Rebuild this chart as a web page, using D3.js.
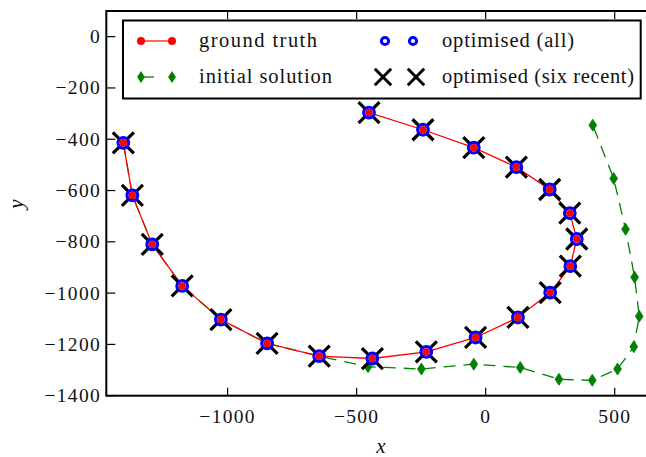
<!DOCTYPE html>
<html><head><meta charset="utf-8">
<script src="https://cdn.jsdelivr.net/npm/d3@7"></script>
<style>body{margin:0;background:#fff}svg{display:block}</style>
</head><body>
<svg id="c" width="646" height="457"></svg>
<script>
// ---- data ----
const gtX = [-1404,-1369,-1292,-1176,-1026,-847,-645,-439,-230,-39,125,250,328,353,326,248,119,-46,-243,-452];
const gtY = [-414,-619,-810,-972,-1103,-1196,-1246,-1255,-1229,-1173,-1095,-998,-895,-789,-688,-596,-509,-433,-363,-296];
const initX = [-1404,-1369,-1292,-1176,-1026,-847,-645,-456,-249,-46,134,284,413,511,574,595,577,542,496,415];
const initY = [-414,-619,-810,-972,-1103,-1196,-1246,-1287,-1296,-1277,-1290,-1336,-1340,-1296,-1209,-1090,-938,-751,-553,-345];
const optAllX = [-1404,-1369,-1292,-1176,-1026,-847,-645,-439,-230,-39,125,250,328,353,326,248,119,-46,-243,-452];
const optAllY = [-414,-619,-810,-972,-1103,-1196,-1246,-1255,-1229,-1173,-1095,-998,-895,-789,-688,-596,-509,-433,-363,-296];
const optRecentX = [-1404,-1369,-1292,-1176,-1026,-847,-645,-439,-230,-39,125,250,328,353,326,248,119,-46,-243,-452];
const optRecentY = [-414,-619,-810,-972,-1103,-1196,-1246,-1255,-1229,-1173,-1095,-998,-895,-789,-688,-596,-509,-433,-363,-296];
const xTicks = [-1000,-500,0,500];
const yTicks = [0,-200,-400,-600,-800,-1000,-1200,-1400];
const seriesNames = ["ground truth","initial solution","optimised (all)","optimised (six recent)"];
const xLabel = "x", yLabel = "y";

// ---- layout ----
const svg = d3.select("#c");
const L = 106.3, R = 656, T = 11, B = 395.7;
const x = d3.scaleLinear().domain([-1470, 660]).range([L, R]);
const y = d3.scaleLinear().domain([-1400, 100]).range([B, T]);
const FONT = "'Liberation Serif', 'DejaVu Serif', serif";
const fmt = v => (v < 0 ? "\u2212" + Math.abs(v) : String(v));

svg.append("defs").append("clipPath").attr("id","clip")
  .append("rect").attr("x",L).attr("y",T).attr("width",R-L).attr("height",B-T);

const plot = svg.append("g").attr("clip-path","url(#clip)");

const zip = (xs, ys) => xs.map((v,i) => [v, ys[i]]);
const gt = zip(gtX, gtY), init = zip(initX, initY), optA = zip(optAllX, optAllY), optR = zip(optRecentX, optRecentY);

const line = d3.line().x(d => x(d[0])).y(d => y(d[1]));

// initial solution dashed line
plot.append("path").attr("d", line(init)).attr("fill","none")
  .attr("stroke","#008000").attr("stroke-width",1.3).attr("stroke-dasharray","12,8");
// ground truth line
plot.append("path").attr("d", line(gt)).attr("fill","none")
  .attr("stroke","#ff0000").attr("stroke-width",1.3);

const diamond = (s) => `M0,${-6*s}L${3.9*s},0L0,${6*s}L${-3.9*s},0Z`;
const cross = (h) => `M${-h},${-h}L${h},${h}M${-h},${h}L${h},${-h}`;

// green diamonds
plot.append("g").selectAll("path").data(init).join("path")
  .attr("transform", d => `translate(${x(d[0])},${y(d[1])})`)
  .attr("d", diamond(1)).attr("fill","#008000").attr("stroke","#008000").attr("stroke-width",0.8);
// black X
plot.append("g").selectAll("path").data(optR).join("path")
  .attr("transform", d => `translate(${x(d[0])},${y(d[1])})`)
  .attr("d", cross(10.5)).attr("fill","none").attr("stroke","#000").attr("stroke-width",3.2);
// blue circles
plot.append("g").selectAll("circle").data(optA).join("circle")
  .attr("cx", d => x(d[0])).attr("cy", d => y(d[1])).attr("r",5.3)
  .attr("fill","#fff").attr("stroke","#0000ff").attr("stroke-width",3.2);
// red dots
plot.append("g").selectAll("circle").data(gt).join("circle")
  .attr("cx", d => x(d[0])).attr("cy", d => y(d[1])).attr("r",3.7)
  .attr("fill","#ff0000");

// ---- axes frame & ticks ----
const ax = svg.append("g");
ax.append("rect").attr("x",L).attr("y",T).attr("width",R-L).attr("height",B-T)
  .attr("fill","none").attr("stroke","#000").attr("stroke-width",2);

xTicks.forEach(v => {
  const px = x(v);
  ax.append("line").attr("x1",px).attr("x2",px).attr("y1",B).attr("y2",B-8).attr("stroke","#000").attr("stroke-width",1.2);
  ax.append("line").attr("x1",px).attr("x2",px).attr("y1",T).attr("y2",T+8).attr("stroke","#000").attr("stroke-width",1.2);
  ax.append("text").attr("x",px).attr("y",423).attr("text-anchor","middle")
    .attr("font-family",FONT).attr("font-size",19.5).attr("letter-spacing",1.3).attr("fill","#111").text(fmt(v));
});
yTicks.forEach(v => {
  const py = y(v);
  ax.append("line").attr("x1",L).attr("x2",L+9).attr("y1",py).attr("y2",py).attr("stroke","#000").attr("stroke-width",1.2);
  ax.append("line").attr("x1",R).attr("x2",R-9).attr("y1",py).attr("y2",py).attr("stroke","#000").attr("stroke-width",1.2);
  ax.append("text").attr("x",101).attr("y",py+6.5).attr("text-anchor","end")
    .attr("font-family",FONT).attr("font-size",19.5).attr("letter-spacing",1.3).attr("fill","#111").text(fmt(v));
});

svg.append("text").attr("x",381).attr("y",453).attr("text-anchor","middle")
  .attr("font-family",FONT).attr("font-style","italic").attr("font-size",21).attr("fill","#111").text(xLabel);
svg.append("text").attr("transform","translate(23,204) rotate(-90)").attr("text-anchor","middle")
  .attr("font-family",FONT).attr("font-style","italic").attr("font-size",21).attr("fill","#111").text(yLabel);

// ---- legend ----
const lg = svg.append("g");
lg.append("rect").attr("x",123).attr("y",20.5).attr("width",517.7).attr("height",78)
  .attr("fill","#fff").attr("stroke","#000").attr("stroke-width",2);
const r1 = 41, r2 = 77;
// ground truth
lg.append("line").attr("x1",141).attr("x2",172).attr("y1",r1).attr("y2",r1).attr("stroke","#ff0000").attr("stroke-width",1.2);
[141,172].forEach(cx => lg.append("circle").attr("cx",cx).attr("cy",r1).attr("r",4).attr("fill","#ff0000"));
// initial solution
lg.append("line").attr("x1",141).attr("x2",172).attr("y1",r2).attr("y2",r2).attr("stroke","#008000").attr("stroke-width",1.3).attr("stroke-dasharray","13,30");
[141,172].forEach(cx => lg.append("path").attr("transform",`translate(${cx},${r2})`).attr("d",diamond(1)).attr("fill","#008000"));
// optimised (all)
[385,413].forEach(cx => lg.append("circle").attr("cx",cx).attr("cy",r1).attr("r",3.6).attr("fill","#fff").attr("stroke","#0000ff").attr("stroke-width",3));
// optimised (six recent)
[383,416].forEach(cx => lg.append("path").attr("transform",`translate(${cx},${r2})`).attr("d",cross(8.2)).attr("fill","none").attr("stroke","#000").attr("stroke-width",3));

const lt = [[199,r1+6,seriesNames[0],118],[199,r2+6,seriesNames[1],133],[442,r1+6,seriesNames[2],132],[442,r2+6,seriesNames[3],192]];
lt.forEach(([tx,ty,s,w]) => lg.append("text").attr("x",tx).attr("y",ty)
  .attr("font-family",FONT).attr("font-size",20.5).attr("textLength",w).attr("lengthAdjust","spacing")
  .attr("fill","#111").text(s));
</script>
</body></html>
